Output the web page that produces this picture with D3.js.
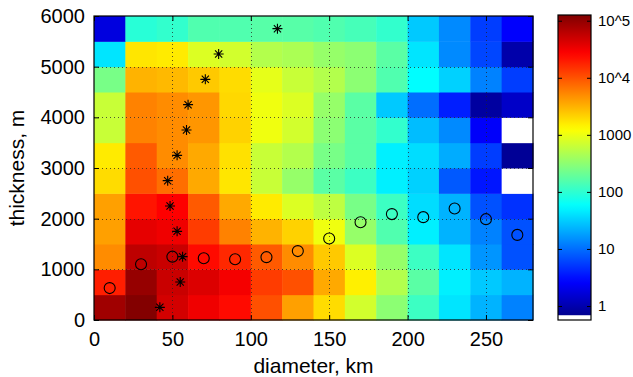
<!DOCTYPE html>
<html><head><meta charset="utf-8">
<script src="https://cdn.jsdelivr.net/npm/d3@7"></script>
<style>
html,body{margin:0;padding:0;background:#fff;}
svg{display:block;font-family:"Liberation Sans",Arial,Helvetica,sans-serif;}
</style></head>
<body>
<svg id="chart" width="633" height="377"></svg>
<script>
// ---- data ----
const diameterEdges = [0,20,40,60,80,100,120,140,160,180,200,220,240,260];   // km, left edge of each bin (width 20)
const thicknessEdges = [0,500,1000,1500,2000,2500,3000,3500,4000,4500,5000,5500]; // m, bottom edge (height 500)
// counts, one row per thickness bin (bottom first), null = no data (white)
const counts0 = [85000,120000,46000,32500,23900,10300,3900,1890,725,310,119,42,23,12.7];
const counts1 = [18800,96000,52000,41000,30500,13100,10300,3500,1500,500,170,48,30,23];
const counts2 = [5000,59000,52000,23900,16700,9100,5000,2400,820,350,119,42,16,7.0];
const counts3 = [3900,36500,32500,13100,5600,3100,2140,1035,350,151,48,23,12.7,7.0];
const counts4 = [3900,21300,27400,9100,3500,1580,820,566,245,119,38,23,7.0,4.8];
const counts5 = [1890,10300,7200,3500,1680,640,350,170,119,48,33,7.8,3.4,null];
const counts6 = [1580,9100,5000,3500,1790,640,500,245,170,48,38,21,5.5,0.75];
const counts7 = [640,5600,5000,4400,2140,1035,725,310,170,105,26,14,2.5,null];
const counts8 = [640,5600,5000,4400,2000,1035,820,350,170,30,10,3.8,0.84,1.36];
const counts9 = [245,3100,2900,2400,1890,920,640,500,310,151,57,33,12.7,5.5];
const counts10 = [42,1680,1580,820,725,500,450,350,310,170,42,14,6.2,0.95];
const counts11 = [1.8,93,105,151,150,165,165,150,134,105,30,14,5.5,2.6];
const countRows = [counts0,counts1,counts2,counts3,counts4,counts5,counts6,counts7,counts8,counts9,counts10,counts11];

const starDiameter = [42,55,56.5,53,48.5,47,53,59,60,71,79.5,117];
const starThickness = [250,750,1250,1750,2250,2750,3250,3750,4250,4750,5250,5750];
const circleDiameter = [10,30,50,70,90,110,130,150,170,190,210,230,250,270];
const circleThickness = [630,1100,1250,1220,1200,1240,1360,1610,1930,2090,2030,2200,1990,1680];

const xTickValues = [0,50,100,150,200,250];
const yTickValues = [0,1000,2000,3000,4000,5000,6000];
const cbTickValues = [0,1,2,3,4,5];
const cbTickLabels = ["1","10","100","1000","10^4","10^5"];
const logMin = -0.245, logMax = 5.1;

// ---- layout ----
const svg = d3.select("#chart");
const L = 94, R = 533, T = 16, B = 320;
const x = d3.scaleLinear().domain([0,280]).range([L,R]);
const y = d3.scaleLinear().domain([0,6000]).range([B,T]);

function jet(t){
  t = Math.max(0, Math.min(1, t));
  const c = v => Math.round(255*Math.max(0, Math.min(1, v)));
  return `rgb(${c(1.5-Math.abs(4*t-3))},${c(1.5-Math.abs(4*t-2))},${c(1.5-Math.abs(4*t-1))})`;
}
const tScale = d3.scaleLinear().domain([logMin, logMax]).range([0,1]);
const colorOf = v => v == null ? "#ffffff" : jet(tScale(Math.log10(v)));

// heatmap cells
const cells = [];
countRows.forEach((row, ri) => row.forEach((v, ci) => cells.push({d: diameterEdges[ci], h: thicknessEdges[ri], v})));
svg.append("g").selectAll("rect").data(cells).join("rect")
  .attr("x", d => x(d.d)).attr("y", d => y(d.h + 500))
  .attr("width", d => x(d.d + 20) - x(d.d) + 0.5)
  .attr("height", d => y(d.h) - y(d.h + 500) + 0.5)
  .attr("fill", d => colorOf(d.v));

// grid
const grid = svg.append("g").attr("stroke", "#222").attr("stroke-width", 1).attr("stroke-dasharray", "1,3").attr("opacity", 0.75);
grid.selectAll("line.gx").data(xTickValues.filter(v => v > 0)).join("line")
  .attr("x1", d => Math.round(x(d)) + 0.5).attr("x2", d => Math.round(x(d)) + 0.5).attr("y1", T).attr("y2", B);
grid.selectAll("line.gy").data(yTickValues.filter(v => v > 0 && v < 6000)).join("line")
  .attr("y1", d => Math.round(y(d)) + 0.5).attr("y2", d => Math.round(y(d)) + 0.5).attr("x1", L).attr("x2", R);

// markers
const star = svg.append("g").attr("stroke", "#000").attr("stroke-width", 1.1).attr("fill", "none");
starDiameter.forEach((dv, i) => {
  const cx = x(dv), cy = y(starThickness[i]), s = 5, s2 = 3.6;
  star.append("path").attr("d",
    `M${cx-s},${cy}H${cx+s}M${cx},${cy-s}V${cy+s}M${cx-s2},${cy-s2}L${cx+s2},${cy+s2}M${cx-s2},${cy+s2}L${cx+s2},${cy-s2}`);
});
svg.append("g").selectAll("circle").data(circleDiameter).join("circle")
  .attr("cx", d => x(d)).attr("cy", (d, i) => y(circleThickness[i])).attr("r", 5.5)
  .attr("fill", "none").attr("stroke", "#000").attr("stroke-width", 1.1);

// axes (ticks inward, box)
const fs = 20;
const fmt = d3.format("d");
const xAxisB = d3.axisBottom(x).tickValues(xTickValues).tickFormat(fmt).tickSizeInner(-5).tickSizeOuter(0).tickPadding(12);
const gxb = svg.append("g").attr("transform", `translate(0,${B})`).call(xAxisB);
const xAxisT = d3.axisTop(x).tickValues(xTickValues).tickSizeInner(-5).tickSizeOuter(0).tickFormat("");
const gxt = svg.append("g").attr("transform", `translate(0,${T})`).call(xAxisT);
const yAxisL = d3.axisLeft(y).tickValues(yTickValues).tickFormat(fmt).tickSizeInner(-5).tickSizeOuter(0).tickPadding(9);
const gyl = svg.append("g").attr("transform", `translate(${L},0)`).call(yAxisL);
const yAxisR = d3.axisRight(y).tickValues(yTickValues).tickSizeInner(-5).tickSizeOuter(0).tickFormat("");
const gyr = svg.append("g").attr("transform", `translate(${R},0)`).call(yAxisR);
[gxb,gxt,gyl,gyr].forEach(g => {
  g.select(".domain").remove();
  g.selectAll("line").attr("stroke", "#000");
  g.selectAll("text").attr("font-size", fs).attr("fill", "#000").attr("font-family", null);
});
svg.append("rect").attr("x", L).attr("y", T).attr("width", R-L).attr("height", B-T)
  .attr("fill", "none").attr("stroke", "#000").attr("stroke-width", 1.2);

svg.append("text").attr("x", (L+R)/2).attr("y", 373).attr("text-anchor", "middle")
  .attr("font-size", 21).text("diameter, km");
svg.append("text").attr("transform", `translate(24,${(T+B)/2}) rotate(-90)`).attr("text-anchor", "middle")
  .attr("font-size", 21).text("thickness, m");

// colorbar
const cbL = 558, cbR = 591, cbT = 15, cbB = 320;
const cy = d3.scaleLinear().domain([logMin, logMax]).range([cbB, cbT]);
const defs = svg.append("defs");
const grad = defs.append("linearGradient").attr("id", "jetgrad").attr("x1", 0).attr("y1", 1).attr("x2", 0).attr("y2", 0);
d3.range(0, 1.0001, 0.02).forEach(t => grad.append("stop").attr("offset", t).attr("stop-color", jet(t)));
svg.append("rect").attr("x", cbL).attr("y", cbT).attr("width", cbR-cbL).attr("height", cbB-cbT).attr("fill", "url(#jetgrad)");
const whiteH = (cbB - cbT) / 64;
svg.append("rect").attr("x", cbL).attr("y", cbB - whiteH).attr("width", cbR-cbL).attr("height", whiteH).attr("fill", "#fff");
svg.append("rect").attr("x", cbL).attr("y", cbT).attr("width", cbR-cbL).attr("height", cbB-cbT)
  .attr("fill", "none").attr("stroke", "#000").attr("stroke-width", 1.2);
const cbAxis = d3.axisRight(cy).tickValues(cbTickValues).tickSizeInner(-4).tickSizeOuter(0).tickPadding(7)
  .tickFormat((d, i) => cbTickLabels[i]);
const gcb = svg.append("g").attr("transform", `translate(${cbR},0)`).call(cbAxis);
const cbAxisL = d3.axisLeft(cy).tickValues(cbTickValues).tickSizeInner(-4).tickSizeOuter(0).tickFormat("");
const gcbl = svg.append("g").attr("transform", `translate(${cbL},0)`).call(cbAxisL);
[gcb, gcbl].forEach(g => {
  g.select(".domain").remove();
  g.selectAll("line").attr("stroke", "#000");
  g.selectAll("text").attr("font-size", 15).attr("fill", "#000").attr("font-family", null);
});
</script>
</body></html>
